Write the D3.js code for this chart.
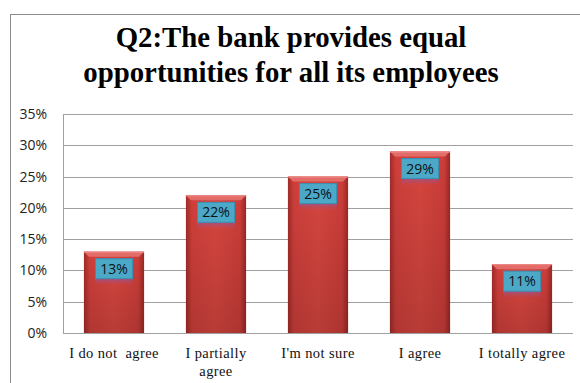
<!DOCTYPE html>
<html>
<head>
<meta charset="utf-8">
<script src="https://cdn.jsdelivr.net/npm/d3@7/dist/d3.min.js"></script>
<style>
  html, body { margin: 0; padding: 0; background: #fff; }
  svg { display: block; }
  .cat { white-space: pre; }
</style>
</head>
<body>
<svg id="chart" width="580" height="383"></svg>
<script>
// Survey responses for Q2
const categories = ["I do not  agree", "I partially agree", "I'm not sure", "I agree", "I totally agree"];
const categoryLines = [["I do not  agree"], ["I partially", "agree"], ["I'm not sure"], ["I agree"], ["I totally agree"]];
const values = [13, 22, 25, 29, 11];
const yTicks = [0, 5, 10, 15, 20, 25, 30, 35];
const titleLines = ["Q2:The bank provides equal", "opportunities for all its employees"];

const svg = d3.select("#chart");
const W = 580, H = 383;
const plot = { left: 63, right: 573, top: 114, bottom: 333 };
const sans = "'Open Sans', 'DejaVu Sans', sans-serif";
const serif = "'Liberation Serif', 'Times New Roman', 'DejaVu Serif', serif";

// Outer chart frame
svg.append("rect")
  .attr("x", 10.5).attr("y", 14.5)
  .attr("width", W - 10).attr("height", H)
  .attr("fill", "#fff").attr("stroke", "#8c8c8c").attr("stroke-width", 1);

const defs = svg.append("defs");

// Horizontal shading for the bar body: darker edges, lighter centre
const body = defs.append("linearGradient").attr("id", "barBody")
  .attr("x1", "0").attr("x2", "1").attr("y1", "0").attr("y2", "0");
[[0, "#a12b28"], [0.1, "#cf3f3b"], [0.5, "#d8463f"], [0.9, "#cc3d39"], [1, "#992825"]]
  .forEach(([o, c]) => body.append("stop").attr("offset", o).attr("stop-color", c));

// Vertical darkening towards the base
const shade = defs.append("linearGradient").attr("id", "barShade")
  .attr("x1", "0").attr("x2", "0").attr("y1", "0").attr("y2", "1");
shade.append("stop").attr("offset", 0).attr("stop-color", "#000").attr("stop-opacity", 0);
shade.append("stop").attr("offset", 1).attr("stop-color", "#000").attr("stop-opacity", 0.15);

// Soft purple glow below each value label
const glow = defs.append("linearGradient").attr("id", "labelGlow")
  .attr("x1", "0").attr("x2", "0").attr("y1", "0").attr("y2", "1");
glow.append("stop").attr("offset", 0).attr("stop-color", "#8a5aa8").attr("stop-opacity", 0.9);
glow.append("stop").attr("offset", 1).attr("stop-color", "#b05070").attr("stop-opacity", 0);

const x = d3.scaleBand().domain(categories).range([plot.left, plot.right]).paddingInner(0.41).paddingOuter(0.205);
const y = d3.scaleLinear().domain([0, 35]).range([plot.bottom, plot.top]);

// Gridlines
svg.append("g").selectAll("line").data(yTicks).join("line")
  .attr("x1", plot.left).attr("x2", plot.right)
  .attr("y1", d => Math.round(y(d)) + 0.5).attr("y2", d => Math.round(y(d)) + 0.5)
  .attr("stroke", "#a0a0a0").attr("stroke-width", 1);

// Vertical axis line
svg.append("line")
  .attr("x1", plot.left + 0.5).attr("x2", plot.left + 0.5)
  .attr("y1", plot.top).attr("y2", plot.bottom)
  .attr("stroke", "#a0a0a0");

// Y axis labels
const yAxis = d3.axisLeft(y).tickValues(yTicks).tickFormat(d => d + "%").tickSize(0).tickPadding(16);
const yg = svg.append("g").attr("transform", `translate(${plot.left},0)`).call(yAxis);
yg.select(".domain").remove();
yg.selectAll("text")
  .attr("font-family", sans)
  .attr("font-size", 14).attr("fill", "#222");

// Bars
const bars = svg.append("g").selectAll("g").data(values).join("g");
bars.append("rect")
  .attr("x", (d, i) => x(categories[i]))
  .attr("y", d => y(d))
  .attr("width", x.bandwidth())
  .attr("height", d => y(0) - y(d))
  .attr("fill", "url(#barBody)");
bars.append("rect")
  .attr("x", (d, i) => x(categories[i]))
  .attr("y", d => y(d))
  .attr("width", x.bandwidth())
  .attr("height", d => y(0) - y(d))
  .attr("fill", "url(#barShade)");
// Bevelled top edge
bars.append("path")
  .attr("d", (d, i) => {
    const x0 = x(categories[i]), x1 = x0 + x.bandwidth(), t = y(d);
    return `M${x0},${t}L${x1},${t}L${x1 - 5},${t + 5}L${x0 + 5},${t + 5}Z`;
  })
  .attr("fill", "#e36c68");
bars.append("line")
  .attr("x1", (d, i) => x(categories[i])).attr("x2", (d, i) => x(categories[i]) + x.bandwidth())
  .attr("y1", d => y(d) + 0.5).attr("y2", d => y(d) + 0.5)
  .attr("stroke", "#ee8e8a").attr("stroke-width", 1);

// Value labels
const lblW = 37, lblH = 20;
bars.append("rect")
  .attr("x", (d, i) => x(categories[i]) + x.bandwidth() / 2 - lblW / 2)
  .attr("y", d => y(d) + 7 + lblH - 2)
  .attr("width", lblW).attr("height", 9)
  .attr("fill", "url(#labelGlow)");
bars.append("rect")
  .attr("x", (d, i) => x(categories[i]) + x.bandwidth() / 2 - lblW / 2)
  .attr("y", d => y(d) + 7)
  .attr("width", lblW).attr("height", lblH)
  .attr("fill", "#4ba8c6").attr("stroke", "#3b8fb3").attr("stroke-width", 1);
bars.append("text")
  .attr("x", (d, i) => x(categories[i]) + x.bandwidth() / 2)
  .attr("y", d => y(d) + 7 + lblH / 2 + 5)
  .attr("text-anchor", "middle")
  .attr("font-family", sans)
  .attr("font-size", 14).attr("fill", "#111")
  .text(d => d + "%");

// Category labels
const xl = svg.append("g").selectAll("text").data(categoryLines).join("text")
  .attr("class", "cat")
  .attr("x", (d, i) => x(categories[i]) + x.bandwidth() / 2)
  .attr("y", 358)
  .attr("text-anchor", "middle")
  .attr("font-family", serif)
  .attr("font-size", 14.5)
  .attr("letter-spacing", 0.4)
  .attr("fill", "#111");
xl.selectAll("tspan").data(d => d).join("tspan")
  .attr("x", function () { return d3.select(this.parentNode).attr("x"); })
  .attr("dy", (d, j) => j === 0 ? 0 : 18)
  .text(d => d);

// Title
svg.append("g").selectAll("text").data(titleLines).join("text")
  .attr("x", 291)
  .attr("y", (d, i) => 47 + i * 34.5)
  .attr("text-anchor", "middle")
  .attr("font-family", serif)
  .attr("font-weight", "bold")
  .attr("font-size", 28.8).attr("fill", "#000")
  .text(d => d);
</script>
</body>
</html>
